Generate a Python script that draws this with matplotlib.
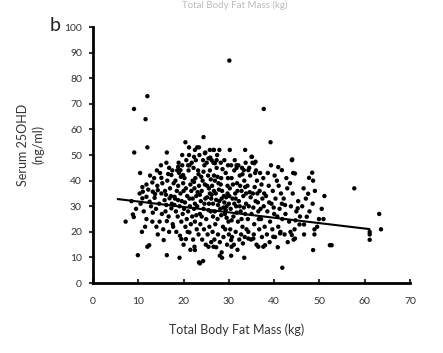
import matplotlib
matplotlib.use("Agg")
import matplotlib.pyplot as plt

# ---- data ----
pts = [
    # sparse / outliers
    (30.1, 86.9), (9.05, 68.0), (12.0, 73.0), (11.6, 64.0), (37.7, 68.0),
    (12.0, 53.0), (9.1, 51.0), (16.3, 51.0), (20.4, 55.0), (24.4, 57.0),
    (21.2, 53.0), (22.5, 52.0), (23.0, 53.0), (24.8, 51.0), (25.8, 52.0),
    (26.7, 52.0), (27.9, 52.0), (30.2, 52.0), (33.6, 52.0), (35.0, 49.3),
    (19.7, 50.0), (22.3, 49.3), (39.2, 55.0), (35.1, 49.3), (44.0, 48.3),
    (43.9, 48.0), (44.2, 43.0), (40.9, 45.3), (41.7, 44.1), (35.6, 46.8),
    (35.9, 47.4), (33.3, 44.1), (34.3, 44.1), (35.8, 43.0), (31.7, 46.0),
    (31.7, 45.0), (26.6, 52.0), (24.7, 50.7), (23.4, 53.0), (25.5, 48.7),
    (26.2, 48.0), (26.9, 46.8), (27.3, 48.0),
    (57.7, 37.0), (48.4, 43.1), (47.7, 41.1), (48.6, 40.0), (47.5, 34.9),
    (51.1, 34.0), (44.6, 42.8), (45.2, 29.2), (47.2, 25.9), (49.9, 25.0),
    (50.9, 25.0), (45.6, 22.9), (46.6, 22.9), (48.9, 21.0), (46.6, 19.0),
    (48.9, 19.0), (48.6, 12.9), (52.3, 14.8), (52.7, 14.8), (63.2, 27.0),
    (61.1, 20.0), (61.1, 19.0), (61.1, 16.9), (63.6, 21.0),
    (10.4, 43.0), (14.1, 44.0), (15.1, 41.1), (16.8, 45.0), (16.6, 42.6),
    (17.3, 42.2), (18.8, 45.4), (19.3, 44.1), (19.9, 42.2), (21.0, 46.0),
    (21.3, 46.0), (10.9, 37.5), (11.8, 38.5), (13.1, 39.3), (14.3, 36.3),
    (7.2, 24.0), (8.8, 26.8), (9.0, 25.8), (9.9, 10.9), (11.8, 25.0),
    (13.1, 24.0), (14.7, 24.0), (16.3, 24.2), (12.0, 14.2), (12.4, 14.8),
    (14.3, 19.0), (15.6, 16.8), (16.3, 10.9), (19.1, 9.9), (17.7, 22.0),
    (19.5, 17.2), (20.5, 17.2), (21.3, 19.8), (22.4, 14.2), (23.4, 8.1),
    (10.3, 35.0), (11.0, 35.7), (10.9, 33.1), (11.8, 33.7), (12.5, 31.8),
    (13.6, 33.3), (13.2, 35.7), (15.1, 35.0), (15.8, 32.4), (16.9, 33.1),
    (18.0, 33.7), (18.8, 32.4), (16.2, 30.5), (17.3, 29.2), (18.0, 30.5),
    (41.8, 6.0), (33.4, 9.9), (28.0, 10.7), (28.5, 9.9), (30.5, 10.7),
    (23.6, 7.7), (24.3, 8.6), (22.5, 12.9), (25.5, 14.2), (26.6, 14.2),
    (30.6, 14.2), (36.5, 14.2), (37.6, 14.2), (38.0, 14.8), (30.5, 16.8),
    (34.3, 17.4), (35.4, 17.4), (39.8, 18.1), (41.3, 19.4), (43.9, 18.8),
    (44.6, 17.4),
    # x < 13
    (8.5, 32), (9.5, 29), (10.5, 31), (11.2, 28), (12.2, 36.5), (12.8, 30),
    (11.5, 22), (10.8, 20), (12.6, 42),
    # x 13-18
    (13.5, 41), (14.2, 38), (14.8, 43), (15.3, 39), (15.9, 36), (16.4, 40),
    (17.0, 37), (17.5, 44), (13.9, 29), (14.6, 31), (15.2, 27), (16.0, 28),
    (16.7, 26), (17.4, 31), (13.2, 27.5), (14.0, 22), (15.5, 21), (16.8, 20),
    (17.6, 23), (15.0, 46), (16.2, 47), (17.8, 39), (17.2, 34), (16.1, 34.5),
    (13.7, 34.8),
    # x 18-22
    (18.2, 40), (18.5, 36), (18.8, 38), (19.0, 43), (19.3, 35), (19.6, 32),
    (19.9, 39), (20.2, 41), (20.5, 37), (20.8, 34), (21.1, 44), (21.4, 30),
    (21.7, 36), (22.0, 40), (18.3, 28), (18.7, 26), (19.1, 30), (19.5, 24),
    (19.8, 27), (20.1, 29), (20.4, 22), (20.7, 25), (21.0, 28), (21.3, 33),
    (21.6, 23), (21.9, 26), (18.4, 20), (19.2, 18.5), (20.0, 15), (20.9, 20),
    (21.5, 13), (22.1, 17), (18.9, 47), (19.7, 46), (20.6, 48), (21.2, 50),
    (21.8, 47), (22.2, 45), (18.1, 33), (20.3, 31.5), (21.5, 38.5),
    (19.4, 41.5), (22.0, 33), (22.3, 29), (20.0, 36), (18.6, 44),
    # x 22-26
    (22.4, 37), (22.6, 41), (22.8, 34), (23.0, 30), (23.2, 44), (23.4, 38),
    (23.6, 27), (23.8, 32), (24.0, 36), (24.2, 40), (24.4, 29), (24.6, 46),
    (24.8, 33), (25.0, 25), (25.2, 38), (25.4, 42), (25.6, 31), (25.8, 35),
    (26.0, 28), (22.5, 24), (22.9, 21), (23.3, 19), (23.7, 23), (24.1, 17),
    (24.5, 21), (24.9, 15), (25.3, 19), (25.7, 22), (26.1, 16), (22.7, 48),
    (23.5, 50), (24.3, 48), (25.1, 47), (25.9, 49), (22.5, 31), (23.1, 35.5),
    (23.9, 41.5), (24.7, 38.5), (25.5, 28.5), (26.0, 40.5), (22.8, 26.5),
    (24.0, 26), (25.2, 33.5), (23.3, 42.5), (24.6, 31), (25.8, 44),
    (22.3, 39.5), (23.6, 34.5), (24.4, 43.5), (25.6, 37), (26.1, 33),
    # x 26-30
    (26.3, 38), (26.5, 31), (26.7, 42), (26.9, 28), (27.1, 35), (27.3, 45),
    (27.5, 25), (27.7, 39), (27.9, 32), (28.1, 29), (28.3, 41), (28.5, 36),
    (28.7, 22), (28.9, 34), (29.1, 27), (29.3, 43), (29.5, 30), (29.7, 38),
    (29.9, 24), (26.4, 20), (26.8, 17), (27.2, 14), (27.6, 19), (28.0, 16),
    (28.4, 12), (28.8, 18), (29.2, 21), (29.6, 15), (30.0, 19), (26.6, 47),
    (27.4, 50), (28.2, 47), (29.0, 48), (29.8, 46), (26.2, 34.5), (26.9, 40),
    (27.6, 30.5), (28.3, 26.5), (29.0, 31.5), (29.7, 35), (26.5, 26),
    (27.8, 36.5), (28.6, 44.5), (29.4, 33.5), (27.0, 23), (28.2, 38.5),
    (29.3, 28.5), (26.7, 36), (27.5, 41.5), (28.8, 29.5), (29.8, 41),
    (30.0, 31), (27.2, 32.5), (28.4, 33), (29.5, 25.5),
    # x 30-34
    (30.2, 37), (30.4, 29), (30.6, 41), (30.8, 33), (31.0, 26), (31.2, 44),
    (31.4, 35), (31.6, 30), (31.8, 39), (32.0, 24), (32.2, 32), (32.4, 42),
    (32.6, 28), (32.8, 36), (33.0, 22), (33.2, 34), (33.4, 40), (33.6, 27),
    (33.8, 31), (30.3, 21), (30.7, 18), (31.1, 15), (31.5, 20), (31.9, 13),
    (32.3, 17), (32.7, 19), (33.1, 15.5), (33.5, 18), (33.9, 21), (30.5, 46),
    (31.3, 48), (32.1, 46), (32.9, 45), (33.7, 47), (30.9, 38.5),
    (31.7, 27.5), (32.5, 38), (33.3, 29.5), (30.1, 34), (31.5, 33),
    (32.8, 25), (33.6, 37.5), (30.6, 24.5), (31.9, 36), (33.0, 42.5),
    (31.2, 31), (32.4, 30), (33.8, 35),
    # x 34-38
    (34.1, 38), (34.4, 30), (34.7, 42), (35.0, 27), (35.3, 35), (35.6, 23),
    (35.9, 32), (36.2, 40), (36.5, 28), (36.8, 36), (37.1, 25), (37.4, 33),
    (37.7, 30), (34.3, 20), (34.9, 17), (35.5, 19), (36.1, 15), (36.7, 21),
    (37.3, 18), (37.9, 22), (34.5, 45), (35.2, 47), (36.0, 44), (36.9, 43),
    (37.6, 41), (34.8, 33.5), (35.7, 37.5), (36.4, 31.5), (37.2, 38.5),
    (34.2, 25), (35.4, 29.5), (36.6, 25), (37.8, 35), (34.6, 35.5),
    (36.3, 35), (37.0, 29),
    # x 38-42
    (38.2, 34), (38.5, 28), (38.8, 38), (39.1, 24), (39.4, 31), (39.7, 36),
    (40.0, 27), (40.3, 33), (40.6, 40), (40.9, 22), (41.2, 29), (41.5, 35),
    (41.8, 25), (38.4, 19), (39.0, 16), (39.6, 21), (40.2, 18), (40.8, 14),
    (41.4, 20), (38.6, 43), (39.3, 46), (40.1, 42), (41.0, 38), (41.7, 31),
    (38.9, 31.5), (39.9, 29.5), (40.7, 26),
    # x 42-46
    (42.1, 33), (42.5, 27), (42.9, 37), (43.3, 24), (43.7, 30), (44.1, 35),
    (44.5, 21), (44.9, 28), (42.3, 19), (43.0, 16), (43.6, 20), (44.3, 17),
    (42.7, 41), (43.5, 39), (45.3, 32), (45.7, 26), (42.4, 30.5), (44.7, 24.5),
    # x 46-52
    (46.2, 30), (47.0, 33), (47.8, 28), (48.5, 31), (49.5, 22), (50.5, 29),
    (46.5, 37), (49.0, 36),
]
fat_mass = [p[0] for p in pts]
serum_25ohd = [p[1] for p in pts]

fit_x = [5.5, 61.0]
fit_y = [32.8, 21.1]

x_ticks = [0, 10, 20, 30, 40, 50, 60, 70]
y_ticks = [0, 10, 20, 30, 40, 50, 60, 70, 80, 90, 100]

font = ['Lato', 'DejaVu Sans']
plt.rcParams['font.family'] = font

fig = plt.figure(figsize=(4.43, 3.53), dpi=100)
ax = fig.add_axes([0.21, 0.198, 0.7155, 0.7255])

ax.scatter(fat_mass, serum_25ohd, s=10, color='black', edgecolors='none', zorder=3)
ax.plot(fit_x, fit_y, color='black', linewidth=1.5, zorder=4)

ax.set_xlim(0, 70)
ax.set_ylim(0, 100)
ax.set_xticks(x_ticks)
ax.set_yticks(y_ticks)
ax.tick_params(axis='both', labelsize=7.5, colors='#333333', width=1.5, length=3)
ax.tick_params(axis='x', direction='in', pad=10)
ax.tick_params(axis='y', direction='out', pad=5)
for s in ['top', 'right']:
    ax.spines[s].set_visible(False)
for s in ['left', 'bottom']:
    ax.spines[s].set_linewidth(2)
    ax.spines[s].set_color('black')

fig.text(0.535, 0.065, 'Total Body Fat Mass (kg)', ha='center', va='center',
         fontsize=9, color='#333333')
fig.text(0.07, 0.59, 'Serum 25OHD\n(ng/ml)', ha='center', va='center',
         rotation=90, fontsize=9, color='#333333', linespacing=1.3)
fig.text(0.125, 0.928, 'b', ha='center', va='center', fontsize=14, color='#222222')
fig.text(0.53, 0.998, 'Total Body Fat Mass (kg)', ha='center', va='top',
         fontsize=7, color='#bbbbbb')

fig.savefig('out.png', dpi=100)
